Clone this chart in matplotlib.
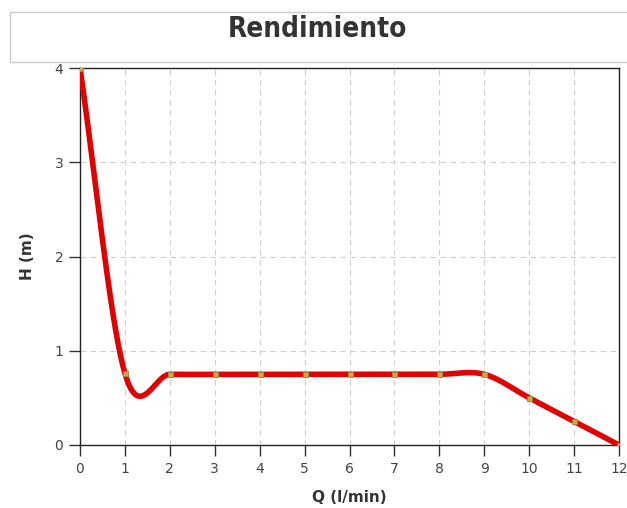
import numpy as np
import matplotlib
matplotlib.use('Agg')
import matplotlib.pyplot as plt
from matplotlib.patches import Rectangle

# Data
q_values = [0, 1, 2, 3, 4, 5, 6, 7, 8, 9, 10, 11, 12]
h_values = [4.0, 0.76, 0.75, 0.75, 0.75, 0.75, 0.75, 0.75, 0.75, 0.75, 0.5, 0.25, 0.0]


def catmull_rom(x, y, n=40):
    # smooth curve through points (cardinal spline like the original chart)
    x = np.asarray(x, float)
    y = np.asarray(y, float)
    m = np.zeros_like(y)
    m[1:-1] = (y[2:] - y[:-2]) / (x[2:] - x[:-2])
    m[0] = (y[1] - y[0]) / (x[1] - x[0])
    m[-1] = (y[-1] - y[-2]) / (x[-1] - x[-2])
    xs, ys = [], []
    for i in range(len(x) - 1):
        h = x[i + 1] - x[i]
        t = np.linspace(0, 1, n, endpoint=False)
        h00 = 2 * t**3 - 3 * t**2 + 1
        h10 = t**3 - 2 * t**2 + t
        h01 = -2 * t**3 + 3 * t**2
        h11 = t**3 - t**2
        xs.append(x[i] + t * h)
        ys.append(h00 * y[i] + h10 * h * m[i] + h01 * y[i + 1] + h11 * h * m[i + 1])
    xs.append([x[-1]])
    ys.append([y[-1]])
    return np.concatenate(xs), np.concatenate(ys)


fig = plt.figure(figsize=(6.27, 5.08), dpi=100)

# title box
fig.patches.append(Rectangle((10 / 627, 1 - 62 / 508), 640 / 627, 50 / 508,
                             transform=fig.transFigure, facecolor='white',
                             edgecolor='#cccccc', lw=1))
fig.text(317 / 627, 1 - 29 / 508, 'Rendimiento', ha='center', va='center',
         fontsize=20, fontweight='bold', fontstretch='condensed',
         family='DejaVu Sans', color='#333333')

ax = fig.add_axes([80 / 627, 63 / 508, 539 / 627, 377 / 508])

sx, sy = catmull_rom(q_values, h_values)
ax.plot(sx, sy, color='#e00000', lw=4, solid_capstyle='round', zorder=3)
ax.plot(q_values, h_values, ls='none', marker='s', ms=3.6,
        mfc='#e0a040', mec='#9a8a40', mew=0.7, zorder=4)

ax.set_xlim(0, 12)
ax.set_ylim(0, 4)
ax.set_xticks(q_values)
ax.set_yticks([0, 1, 2, 3, 4])
ax.grid(True, ls=(0, (5, 4)), color='#d0d0d0', lw=0.8)
ax.set_axisbelow(True)
for s in ax.spines.values():
    s.set_color('#222222')
    s.set_linewidth(1)
ax.tick_params(direction='out', length=8, width=1, color='#333333',
               labelsize=10, labelcolor='#444444', pad=4)

ax.set_xlabel('Q (l/min)', fontsize=11, fontweight='bold', color='#333333', labelpad=10)
ax.set_ylabel('H (m)', fontsize=11, fontweight='bold', color='#333333', labelpad=14)

fig.savefig('out.png', dpi=100)
